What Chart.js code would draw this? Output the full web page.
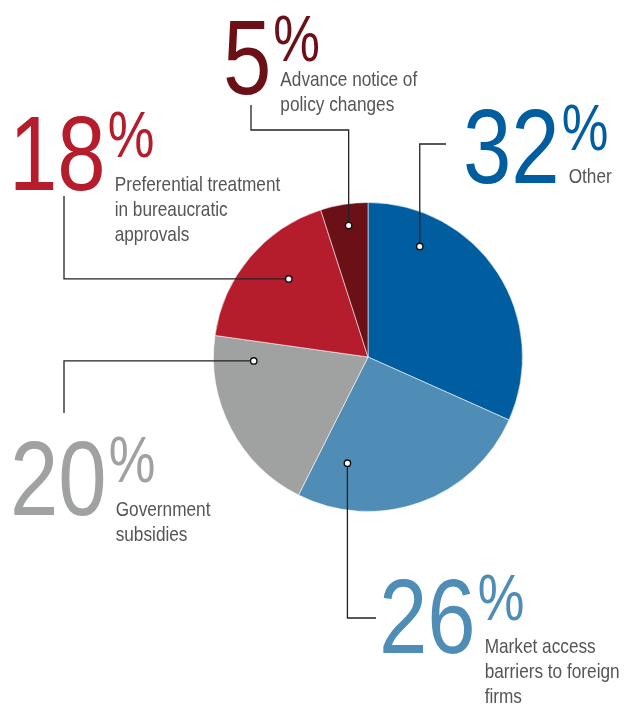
<!DOCTYPE html>
<html>
<head>
<meta charset="utf-8">
<script src="https://cdn.jsdelivr.net/npm/chart.js@4.4.1/dist/chart.umd.min.js"></script>
<style>
  html, body { margin: 0; padding: 0; background: #fff; }
  #wrap { width: 629px; height: 704px; position: relative; }
</style>
</head>
<body>
<div id="wrap"><canvas id="pieChart"></canvas></div>
<script>
// slices, clockwise from 12 o'clock
const categories = [
    ['Other'],
    ['Market access', 'barriers to foreign', 'firms'],
    ['Government', 'subsidies'],
    ['Preferential treatment', 'in bureaucratic', 'approvals'],
    ['Advance notice of', 'policy changes']
];
const shares = [32, 26, 20, 18, 5];
const sliceColors = ['#005da0', '#4f8db6', '#a0a1a1', '#b51c2c', '#6a1016'];

// callout placement: where the dot sits inside its slice (t = fraction of the arc,
// r = fraction of the radius), how the leader runs, and where the big number goes
const callouts = [
    {t: 0.22, r: 0.79, path: [{v: 144}, {h: 446}], numX: 463, numY: 183, labelDy: 0},
    {t: 0.83, r: 0.70, path: [{v: 618}, {h: 376}], numX: 379, numY: 653, labelDy: 0},
    {t: 0.86, r: 0.74, path: [{h: 64}, {v: 413}], numX: 10, numY: 515, labelDy: 1},
    {t: 0.57, r: 0.72, path: [{h: 64}, {v: 196}], numX: 9, numY: 190, labelDy: 1},
    {t: 0.53, r: 0.86, path: [{v: 130}, {h: 251}, {v: 105}], numX: 223, numY: 94, labelDy: -8}
];

const textGray = '#555555';
let narrowFont = 'Liberation Sans Narrow';
let squeeze = 1;

function pickFont(ctx) {
    ctx.font = '40px "Liberation Sans Narrow", serif';
    const a = ctx.measureText('Market access').width;
    ctx.font = '40px serif';
    const b = ctx.measureText('Market access').width;
    if (Math.abs(a - b) < 0.5) {
        // no narrow face installed, squash the regular one instead
        narrowFont = 'Liberation Sans';
        squeeze = 0.82;
    }
}

function drawText(ctx, str, x, y, size) {
    ctx.save();
    ctx.font = size + 'px "' + narrowFont + '"';
    ctx.translate(x, y);
    ctx.scale(squeeze, 1);
    ctx.fillText(str, 0, 0);
    const w = ctx.measureText(str).width * squeeze;
    ctx.restore();
    return w;
}

const calloutPlugin = {
    id: 'callouts',
    afterDraw(chart) {
        const ctx = chart.ctx;
        const arcs = chart.getDatasetMeta(0).data;
        ctx.save();
        ctx.textBaseline = 'alphabetic';
        ctx.textAlign = 'left';
        arcs.forEach((arc, i) => {
            const c = callouts[i];
            const a = arc.startAngle + c.t * (arc.endAngle - arc.startAngle);
            const dx = arc.x + Math.cos(a) * arc.outerRadius * c.r;
            const dy = arc.y + Math.sin(a) * arc.outerRadius * c.r;

            // leader line
            ctx.strokeStyle = '#222';
            ctx.lineWidth = 1.3;
            ctx.beginPath();
            let px = dx, py = dy;
            ctx.moveTo(px, py);
            c.path.forEach(step => {
                if (step.v !== undefined) py = step.v;
                if (step.h !== undefined) px = step.h;
                ctx.lineTo(px, py);
            });
            ctx.stroke();

            // dot
            ctx.beginPath();
            ctx.arc(dx, dy, 3.2, 0, Math.PI * 2);
            ctx.fillStyle = '#fff';
            ctx.fill();
            ctx.lineWidth = 1.4;
            ctx.strokeStyle = '#111';
            ctx.stroke();

            // big number + percent sign
            ctx.fillStyle = sliceColors[i];
            const w = drawText(ctx, String(shares[i]), c.numX, c.numY, 106);
            const pctX = c.numX + w + 2;
            drawText(ctx, '%', pctX, c.numY - 33, 64);

            // category text
            ctx.fillStyle = textGray;
            categories[i].forEach((line, k) => {
                drawText(ctx, line, pctX + 7, c.numY + c.labelDy + k * 25, 21);
            });
        });
        ctx.restore();
    }
};

const canvas = document.getElementById('pieChart');
canvas.width = 629;
canvas.height = 704;
pickFont(canvas.getContext('2d'));

new Chart(canvas.getContext('2d'), {
    type: 'pie',
    data: {
        labels: categories.map(l => l.join(' ')),
        datasets: [{
            data: shares,
            backgroundColor: sliceColors,
            borderColor: 'rgba(255,255,255,0.55)',
            borderWidth: 1
        }]
    },
    options: {
        responsive: false,
        animation: false,
        layout: {padding: {left: 213, right: 106, top: 202, bottom: 192}},
        plugins: {
            legend: {display: false},
            tooltip: {enabled: false}
        }
    },
    plugins: [calloutPlugin]
});
</script>
</body>
</html>
